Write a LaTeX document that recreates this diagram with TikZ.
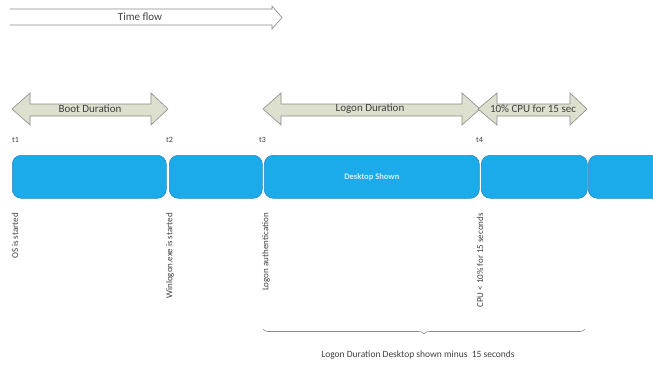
\documentclass[tikz,border=0pt]{standalone}
\usepackage{fontspec}
\setmainfont{Carlito}
\usetikzlibrary{arrows.meta,positioning,calc,decorations.pathreplacing}
\definecolor{ink}{HTML}{404040}
\definecolor{edge}{HTML}{8A8A8A}
\definecolor{band}{HTML}{DDE0CE}
\definecolor{segfill}{HTML}{1BABEA}
\definecolor{segedge}{HTML}{2A86BD}
\definecolor{segtext}{HTML}{CFF2FF}
\tikzset{
  flow/.style={draw=edge,line width=0.6pt,fill=white},
  span/.style={draw=edge,line width=0.6pt,fill=band},
  seg/.style={draw=segedge,fill=segfill,rounded corners=9pt,line width=0.6pt,anchor=north west,minimum height=43pt,inner sep=0pt},
  lab/.style={font=\fontsize{11}{13}\selectfont,text=ink},
  tick/.style={font=\fontsize{8}{9}\selectfont,text=ink,anchor=west,inner sep=0pt},
  vlab/.style={font=\fontsize{9}{11}\selectfont,text=ink,rotate=90,anchor=east,inner sep=0pt},
  brc/.style={draw=edge,line width=0.6pt,decorate,decoration={brace,mirror,amplitude=5pt}},
}

\begin{document}
\begin{tikzpicture}[x=1pt,y=-1pt]
\useasboundingbox (0,0) rectangle (653,364);
\clip (0,0) rectangle (653,364);
% time flow arrow
\draw[flow] (10,9) -- (272,9) -- (272,6) -- (282,17.5) -- (272,29) -- (272,25) -- (10,25);
\node[lab] (flow) at (140,17) {Time flow};
% duration arrows
\draw[span] (12,109) -- (30,93) -- (30,104) -- (151,104) -- (151,93) -- (168,109) -- (151,125) -- (151,116) -- (30,116) -- (30,125) -- cycle;
\node[lab] (boot) at (90,109) {Boot Duration};
\draw[span] (263,109) -- (281,93) -- (281,104) -- (462,104) -- (462,93) -- (480,109) -- (462,125) -- (462,116) -- (281,116) -- (281,125) -- cycle;
\node[lab] (logon) at (370,109) {Logon Duration};
\draw[span] (478,109) -- (497,93) -- (497,104) -- (570,104) -- (570,93) -- (587,109) -- (570,125) -- (570,116) -- (497,116) -- (497,125) -- cycle;
\node[lab] (cpu) at (533,109) {10\% CPU for 15 sec};
% time marks
\node[tick] (t1) at (12,140) {t1};
\node[tick] (t2) at (166,140) {t2};
\node[tick] (t3) at (259,140) {t3};
\node[tick] (t4) at (476,140) {t4};
% segments
\node[seg,minimum width=154pt] (seg1) at (12,155) {};
\node[seg,minimum width=93pt] (seg2) at (169,155) {};
\node[seg,minimum width=215pt,font=\bfseries\fontsize{8.5}{10}\selectfont,text=segtext] (seg3) at (264,155) {Desktop Shown};
\node[seg,minimum width=106pt] (seg4) at (481,155) {};
\node[seg,minimum width=100pt] (seg5) at (588,155) {};
% events
\node[vlab] (os) at (15,213) {OS is started};
\node[vlab] (winl) at (170,213) {Winlogon.exe is started};
\node[vlab] (auth) at (266,213) {Logon authentication};
\node[vlab] (idle) at (480,213) {CPU < 10\% for 15 seconds};
% brace
\coordinate (b1) at (263,329);
\coordinate (b2) at (585,329);
\draw[brc] (b1) -- (b2);
\node[font=\fontsize{9.5}{11}\selectfont,text=ink] (total) at (418,355) {Logon Duration Desktop shown minus\ \ 15 seconds};
\end{tikzpicture}
\end{document}
